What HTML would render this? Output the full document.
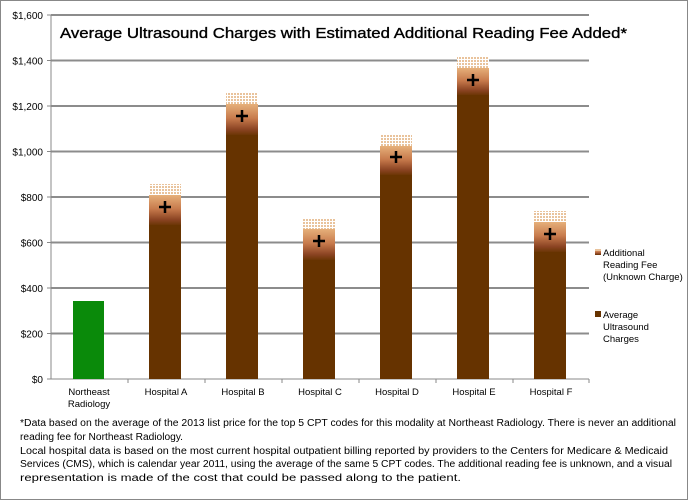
<!DOCTYPE html>
<html><head><meta charset="utf-8"><style>
html,body{margin:0;padding:0;background:#fff;}
svg{display:block;font-family:"Liberation Sans",sans-serif;}
</style></head><body>
<svg width="688" height="502" viewBox="0 0 688 502">
<defs>
<pattern id="dots" width="3" height="3" patternUnits="userSpaceOnUse">
<rect width="3" height="3" fill="#fff"/><rect width="2" height="2" fill="#e9c39c"/>
</pattern>
<linearGradient id="fee" x1="0" y1="0" x2="0" y2="1">
<stop offset="0" stop-color="#e6b07a"/>
<stop offset="0.45" stop-color="#c77a4c"/>
<stop offset="0.8" stop-color="#8a4322"/>
<stop offset="1" stop-color="#663300"/>
</linearGradient>
</defs>
<rect x="0.5" y="0.5" width="687" height="499" fill="#fff" stroke="#888"/>
<g stroke="#8c8c8c" stroke-width="2">
<line x1="51" y1="15" x2="589" y2="15"/>
<line x1="51" y1="60.5" x2="589" y2="60.5"/>
<line x1="51" y1="106" x2="589" y2="106"/>
<line x1="51" y1="151.5" x2="589" y2="151.5"/>
<line x1="51" y1="197" x2="589" y2="197"/>
<line x1="51" y1="242.5" x2="589" y2="242.5"/>
<line x1="51" y1="288" x2="589" y2="288"/>
<line x1="51" y1="333.5" x2="589" y2="333.5"/>
</g>
<g stroke="#888" stroke-width="1">
<line x1="51" y1="379" x2="589" y2="379"/>
<line x1="51" y1="15" x2="51" y2="379"/>
<line x1="47" y1="15" x2="51" y2="15"/><line x1="47" y1="60.5" x2="51" y2="60.5"/><line x1="47" y1="106" x2="51" y2="106"/><line x1="47" y1="151.5" x2="51" y2="151.5"/><line x1="47" y1="197" x2="51" y2="197"/><line x1="47" y1="242.5" x2="51" y2="242.5"/><line x1="47" y1="288" x2="51" y2="288"/><line x1="47" y1="333.5" x2="51" y2="333.5"/><line x1="47" y1="379" x2="51" y2="379"/>
<line x1="128" y1="379" x2="128" y2="383"/><line x1="205" y1="379" x2="205" y2="383"/><line x1="282" y1="379" x2="282" y2="383"/><line x1="359" y1="379" x2="359" y2="383"/><line x1="436" y1="379" x2="436" y2="383"/><line x1="513" y1="379" x2="513" y2="383"/><line x1="589" y1="379" x2="589" y2="383"/>
</g>
<g font-size="10" fill="#000" text-anchor="end">
<text x="43" y="19">$1,600</text><text x="43" y="64.5">$1,400</text><text x="43" y="110">$1,200</text><text x="43" y="155.5">$1,000</text><text x="43" y="201">$800</text><text x="43" y="246.5">$600</text><text x="43" y="292">$400</text><text x="43" y="337.5">$200</text><text x="43" y="383">$0</text>
</g>
<rect x="73" y="301" width="31" height="78" fill="#0a8a0a"/>
<g id="bars">
<rect x="149" y="184" width="32" height="12" fill="url(#dots)"/><rect x="149" y="195" width="32" height="31" fill="url(#fee)"/><rect x="149" y="225" width="32" height="154" fill="#663300"/>
<rect x="226" y="93" width="32" height="12" fill="url(#dots)"/><rect x="226" y="104" width="32" height="32" fill="url(#fee)"/><rect x="226" y="135" width="32" height="244" fill="#663300"/>
<rect x="303" y="218" width="32" height="12" fill="url(#dots)"/><rect x="303" y="229" width="32" height="32" fill="url(#fee)"/><rect x="303" y="260" width="32" height="119" fill="#663300"/>
<rect x="380" y="135" width="32" height="12" fill="url(#dots)"/><rect x="380" y="146" width="32" height="30" fill="url(#fee)"/><rect x="380" y="175" width="32" height="204" fill="#663300"/>
<rect x="457" y="57" width="32" height="12" fill="url(#dots)"/><rect x="457" y="68" width="32" height="28" fill="url(#fee)"/><rect x="457" y="95" width="32" height="284" fill="#663300"/>
<rect x="534" y="211" width="32" height="12" fill="url(#dots)"/><rect x="534" y="222" width="32" height="31" fill="url(#fee)"/><rect x="534" y="252" width="32" height="127" fill="#663300"/>
</g>
<g stroke="#000" stroke-width="2.5">
<path d="M159 207h12M165 201v12"/>
<path d="M236 116h12M242 110v12"/>
<path d="M313 241h12M319 235v12"/>
<path d="M390 157h12M396 151v12"/>
<path d="M467 80h12M473 74v12"/>
<path d="M544 234h12M550 228v12"/>
</g>
<g font-size="9.5" fill="#000" text-anchor="middle">
<text x="89" y="395">Northeast</text><text x="89" y="407">Radiology</text>
<text x="166" y="395">Hospital A</text>
<text x="243" y="395">Hospital B</text>
<text x="320" y="395">Hospital C</text>
<text x="397" y="395">Hospital D</text>
<text x="474" y="395">Hospital E</text>
<text x="551" y="395">Hospital F</text>
</g>
<text x="60" y="38" font-size="15" fill="#000" stroke="#000" stroke-width="0.35" textLength="567" lengthAdjust="spacingAndGlyphs">Average Ultrasound Charges with Estimated Additional Reading Fee Added*</text>
<rect x="595" y="249" width="6" height="6" fill="url(#fee)"/>
<rect x="595" y="249" width="6" height="2" fill="#e9c39c"/>
<g font-size="9.5" fill="#000">
<text x="603" y="256">Additional</text><text x="603" y="268">Reading Fee</text><text x="603" y="280">(Unknown Charge)</text>
<text x="603" y="318">Average</text><text x="603" y="330">Ultrasound</text><text x="603" y="342">Charges</text>
</g>
<rect x="595" y="311" width="6" height="6" fill="#663300"/>
<g font-size="10" fill="#000">
<text x="20" y="426" textLength="656" lengthAdjust="spacingAndGlyphs">*Data based on the average of the 2013 list price for the top 5 CPT codes for this modality at Northeast Radiology.  There is never an additional</text>
<text x="20" y="440" textLength="163" lengthAdjust="spacingAndGlyphs">reading fee for Northeast Radiology.</text>
<text x="20" y="454" textLength="648" lengthAdjust="spacingAndGlyphs">Local hospital data is based on the most current hospital outpatient billing reported by providers to the Centers for Medicare &amp; Medicaid</text>
<text x="20" y="467" textLength="652" lengthAdjust="spacingAndGlyphs">Services (CMS), which is  calendar year 2011, using the average of the same 5 CPT codes.  The additional reading fee is unknown, and a visual</text>
<text x="20" y="481" textLength="441" lengthAdjust="spacingAndGlyphs">representation is made of the cost that could be passed along to the patient.</text>
</g>
</svg>
</body></html>
